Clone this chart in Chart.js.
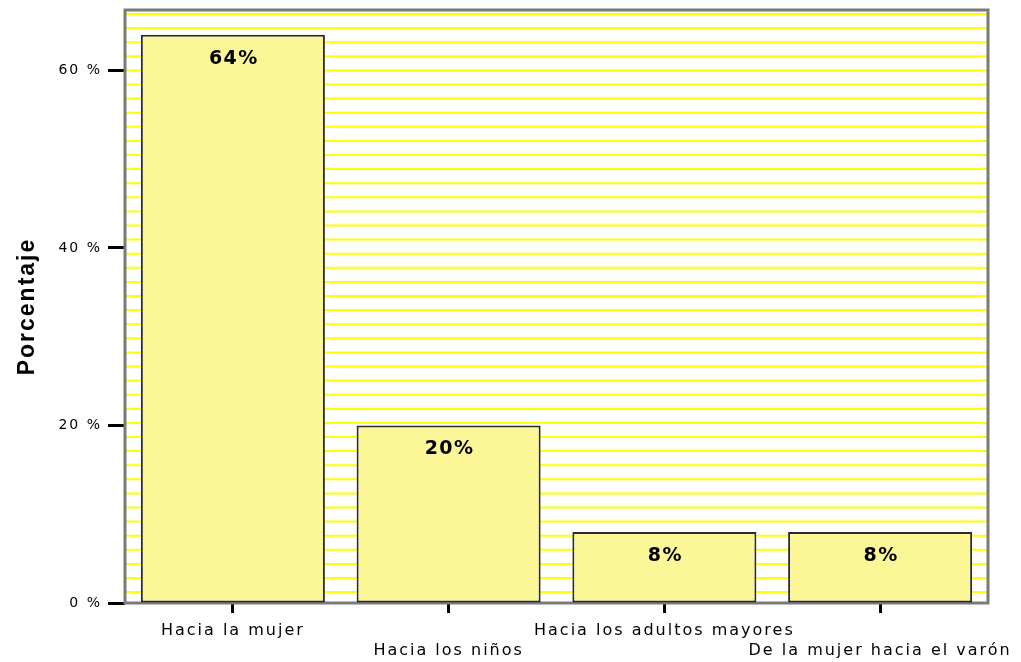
<!DOCTYPE html>
<html>
<head>
<meta charset="utf-8">
<script src="https://cdn.jsdelivr.net/npm/chart.js@4/dist/chart.umd.min.js"></script>
<style>
  html, body { margin: 0; padding: 0; background: #ffffff; }
  canvas { display: block; }
</style>
</head>
<body>
<canvas id="c" width="1021" height="662"></canvas>
<script>
// ---- data ----
const categories = [
  ['Hacia la mujer'],
  ['', 'Hacia los niños'],
  ['Hacia los adultos mayores'],
  ['', 'De la mujer hacia el varón']
];
const percentages = [64, 20, 8, 8];
const yTickValues = [0, 20, 40, 60];
const yAxisTitle = 'Porcentaje';

// ---- plugins ----
const spacingPlugin = {
  id: 'spacing',
  beforeUpdate(chart) { chart.ctx.letterSpacing = '2px'; },
  beforeDraw(chart) { chart.ctx.letterSpacing = '2px'; }
};

const backgroundPlugin = {
  id: 'stripes',
  beforeDatasetsDraw(chart) {
    const { ctx, chartArea: a } = chart;
    ctx.save();
    ctx.strokeStyle = '#ffff00';
    ctx.lineWidth = 2;
    for (let y = a.top + 4; y < a.bottom - 1; y += 14.1) {
      ctx.beginPath();
      ctx.moveTo(a.left, y);
      ctx.lineTo(a.right, y);
      ctx.stroke();
    }
    ctx.strokeStyle = '#7a7a7a';
    ctx.lineWidth = 3;
    ctx.strokeRect(a.left, a.top, a.right - a.left, a.bottom - a.top);
    ctx.restore();
  }
};

const labelPlugin = {
  id: 'barLabels',
  afterDatasetsDraw(chart) {
    const { ctx } = chart;
    const meta = chart.getDatasetMeta(0);
    ctx.save();
    ctx.letterSpacing = '1.5px';
    ctx.font = 'bold 19px "DejaVu Sans"';
    ctx.fillStyle = '#000000';
    ctx.textAlign = 'center';
    ctx.textBaseline = 'middle';
    meta.data.forEach((bar, i) => {
      ctx.fillText(percentages[i] + '%', bar.x + 1, bar.y + 24);
    });
    ctx.restore();
  }
};

new Chart(document.getElementById('c'), {
  type: 'bar',
  data: {
    labels: categories,
    datasets: [{
      data: percentages,
      backgroundColor: '#fbf797',
      borderColor: '#2a2a2a',
      borderWidth: 2,
      borderSkipped: false,
      categoryPercentage: 1,
      barPercentage: 0.853
    }]
  },
  options: {
    responsive: false,
    animation: false,
    layout: { padding: { top: 10, right: 33, left: 0, bottom: 0 } },
    plugins: {
      legend: { display: false },
      tooltip: { enabled: false }
    },
    scales: {
      x: {
        offset: true,
        grid: {
          offset: false,
          drawOnChartArea: false,
          drawTicks: true,
          tickLength: 10,
          tickWidth: 3,
          tickColor: '#000000'
        },
        border: { display: false },
        ticks: {
          autoSkip: false,
          maxRotation: 0,
          minRotation: 0,
          padding: 8,
          color: '#000000',
          font: { family: '"DejaVu Sans"', size: 16, lineHeight: 1.25 }
        },
        afterFit(scale) {
          scale.height = 59;
          scale.paddingLeft = 0;
          scale.paddingRight = 0;
        }
      },
      y: {
        min: 0,
        max: 66.8,
        grid: {
          drawOnChartArea: false,
          drawTicks: true,
          tickLength: 17,
          tickWidth: 3,
          tickColor: '#000000'
        },
        border: { display: false },
        ticks: {
          stepSize: 20,
          padding: 6,
          color: '#000000',
          font: { family: '"DejaVu Sans"', size: 14 },
          callback: (v) => v + ' %'
        },
        afterBuildTicks(scale) {
          scale.ticks = yTickValues.map(v => ({ value: v }));
        },
        title: {
          display: true,
          text: yAxisTitle,
          color: '#000000',
          font: { family: '"Liberation Sans"', size: 23, weight: 'bold' },
          padding: { top: 14, bottom: 0 }
        },
        afterFit(scale) {
          scale.width = 125;
          scale.paddingTop = 0;
          scale.paddingBottom = 0;
        }
      }
    }
  },
  plugins: [spacingPlugin, backgroundPlugin, labelPlugin]
});
</script>
</body>
</html>
